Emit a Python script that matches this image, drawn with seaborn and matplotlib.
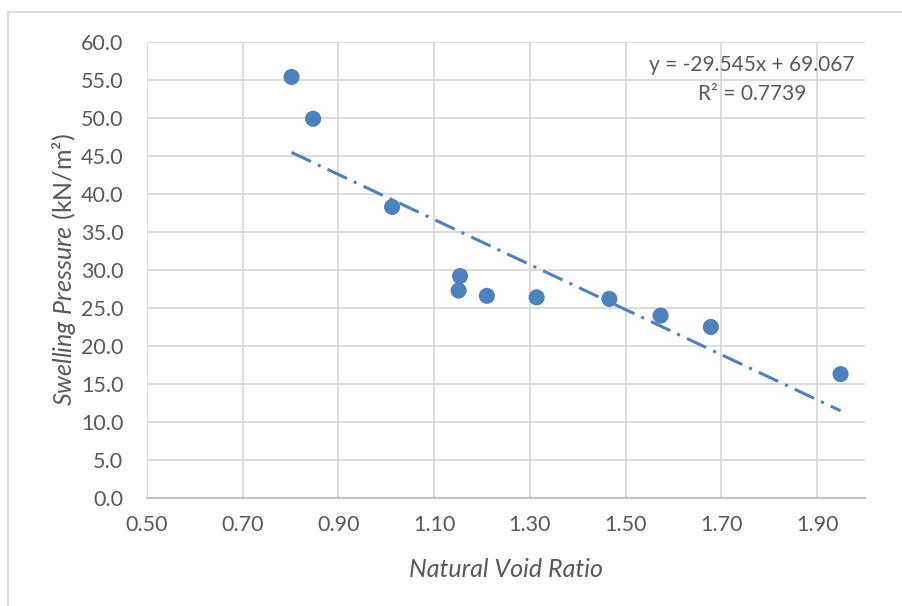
import numpy as np
import matplotlib.pyplot as plt
import seaborn as sns
from matplotlib.lines import Line2D

# data
void_ratio = [0.802, 0.847, 1.012, 1.154, 1.151, 1.210, 1.314, 1.466, 1.573, 1.678, 1.949]
swelling_pressure = [55.4, 49.9, 38.3, 29.2, 27.3, 26.6, 26.4, 26.2, 24.0, 22.5, 16.3]
x_ticks = [0.50, 0.70, 0.90, 1.10, 1.30, 1.50, 1.70, 1.90]
y_ticks = [0, 5, 10, 15, 20, 25, 30, 35, 40, 45, 50, 55, 60]
eq_text = "y = -29.545x + 69.067"
r2_text = "R² = 0.7739"

sns.set_style("white")
plt.rcParams['font.family'] = ['Lato', 'DejaVu Sans']
plt.rcParams['mathtext.fontset'] = 'custom'
plt.rcParams['mathtext.rm'] = 'Lato'
plt.rcParams['mathtext.it'] = 'Lato:italic'

blue = '#4F81BD'
grid_c = '#D9D9D9'
txt_c = '#595959'
W, H = 903, 606

fig = plt.figure(figsize=(9.03, 6.06), dpi=100)
ax = fig.add_axes([147 / W, 1 - 498 / H, 718 / W, 456 / H])

sns.regplot(x=void_ratio, y=swelling_pressure, ax=ax, ci=None, scatter=False,
            line_kws={'color': blue, 'lw': 2.2, 'dashes': (7, 2.5, 1, 2.5)})
sns.scatterplot(x=void_ratio, y=swelling_pressure, ax=ax, color=blue, s=135,
                edgecolor='none', zorder=3)

ax.set_xlim(0.5, 2.0)
ax.set_ylim(0, 60)
ax.set_xticks(x_ticks)
ax.set_xticklabels([f"{v:.2f}" for v in x_ticks])
ax.set_yticks(y_ticks)
ax.set_yticklabels([f"{v:.1f}" for v in y_ticks])
ax.tick_params(length=0, labelsize=15.5, colors=txt_c)
ax.tick_params(axis='x', pad=12)
ax.tick_params(axis='y', pad=17)
ax.grid(True, color=grid_c, lw=1.3)
ax.set_axisbelow(True)
for s in ['left', 'top', 'right']:
    ax.spines[s].set_visible(False)
ax.spines['bottom'].set_color('#BFBFBF')
ax.spines['bottom'].set_linewidth(1.3)

ax.set_xlabel("Natural Void Ratio", fontsize=18, style='italic', color=txt_c, labelpad=17)
ax.set_ylabel(r"$\mathit{Swelling\ Pressure}$ (kN/m²)", fontsize=18, color=txt_c, labelpad=2)

fig.text(752 / W, 1 - 65 / H, eq_text, fontsize=15, color=txt_c, ha='center', va='center')
fig.text(752 / W, 1 - 94 / H, r2_text, fontsize=15, color=txt_c, ha='center', va='center')

# outer chart frame (cropped on right and bottom)
fig.add_artist(Line2D([8 / W, 8 / W], [0, 1 - 12 / H], color=grid_c, lw=1.3))
fig.add_artist(Line2D([8 / W, 1], [1 - 12 / H, 1 - 12 / H], color=grid_c, lw=1.3))

fig.savefig('out.png', dpi=100)
